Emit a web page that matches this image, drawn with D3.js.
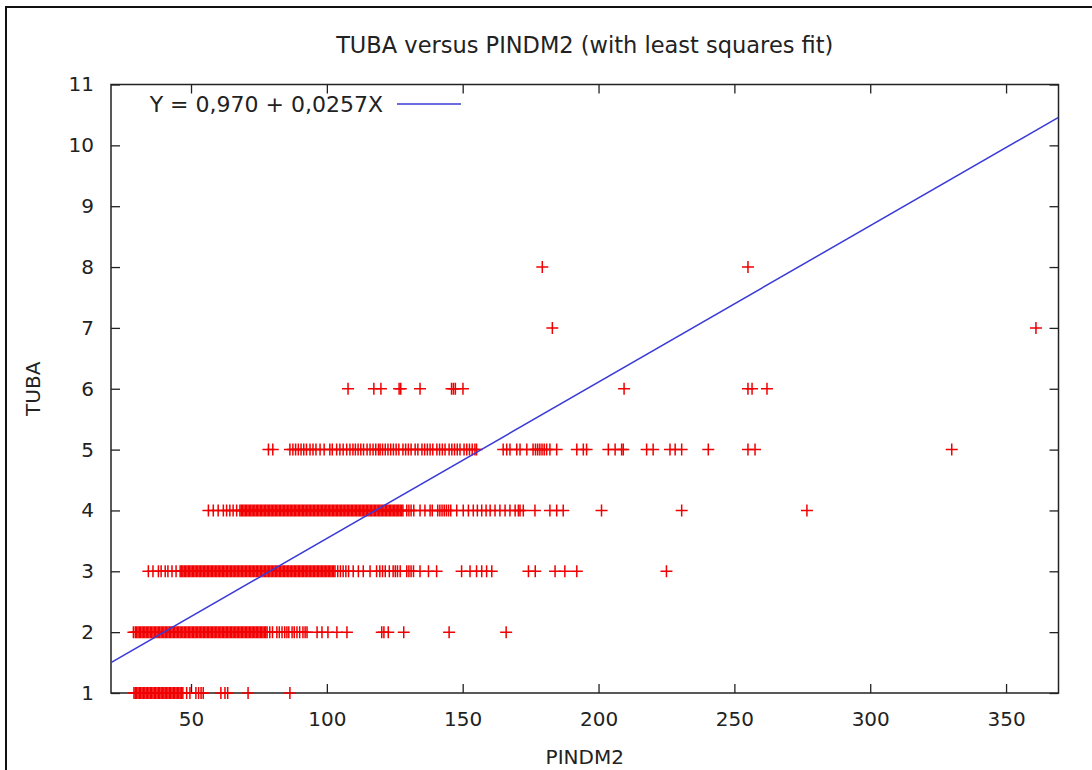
<!DOCTYPE html>
<html>
<head>
<meta charset="utf-8">
<script src="https://cdn.jsdelivr.net/npm/d3@7"></script>
<style>
  html, body { margin: 0; padding: 0; background: #fff; }
  svg { display: block; }
  text { font-family: "DejaVu Sans", Verdana, sans-serif; fill: #222; }
</style>
</head>
<body>
<svg id="chart" width="1092" height="770"></svg>
<script>
// PINDM2 observations grouped by TUBA value
const tuba1 = [29,29.5,30,30.5,31,31.5,32,32.5,33,33.5,34,34.5,35,35.5,36,36.5,37,37.5,38,38.5,39,39.5,40,40.5,41,41.5,42,42.5,43,43.5,44,44.5,45,45.5,46,46.5,47,
  48.4,49.6,51.8,52.8,53.7,54.5,61,62.5,63.5,71,86.4];
const tuba2 = [28.8,29.5,30,30.5,31,31.5,32,32.5,33,33.5,34,34.5,35,35.5,36,36.5,37,37.5,38,38.5,39,39.5,40,40.5,41,41.5,42,42.5,43,43.5,44,44.5,45,45.5,46,46.5,47,47.5,48,48.5,49,49.5,50,50.5,51,51.5,52,52.5,53,53.5,54,54.5,55,55.5,56,56.5,57,57.5,58,58.5,59,59.5,60,60.5,61,61.5,62,62.5,63,63.5,64,64.5,65,65.5,66,66.5,67,67.5,68,68.5,69,69.5,70,70.5,71,71.5,72,72.5,73,73.5,74,74.5,75,75.5,76,76.5,77,
  77.5,78,79,80,81.6,82.5,83.5,84.5,85.3,86,87.2,88,89,90,91.2,92,92.7,96.4,98.2,100.4,103.7,107.4,120.2,121,122.6,128.3,145,166];
const tuba3 = [34.3,36,38,39,40.5,41.5,43,44.5,
  46,46.5,47,47.5,48,48.5,49,49.5,50,50.5,51,51.5,52,52.5,53,53.5,54,54.5,55,55.5,56,56.5,57,57.5,58,58.5,59,59.5,60,60.5,61,61.5,62,62.5,63,63.5,64,64.5,65,65.5,66,66.5,67,67.5,68,68.5,69,69.5,70,70.5,71,71.5,72,72.5,73,73.5,74,74.5,75,75.5,76,76.5,77,77.5,78,78.5,79,79.5,80,80.5,81,81.5,82,82.5,83,83.5,84,84.5,85,85.5,86,86.5,87,87.5,88,88.5,89,89.5,90,90.5,91,91.5,92,92.5,93,93.5,94,94.5,95,95.5,96,96.5,97,97.5,98,98.5,99,99.5,100,100.5,101,101.5,102,102.5,103,
  104,105,106,107,108,109.7,111.6,113.4,115.9,118.3,119.5,120.5,121.5,123,124.4,125.2,126,127,129.4,130.2,131,131.9,134.3,137.4,140.4,
  149.6,152.7,155.1,157,158.8,160.7,174.2,176.7,184,187.6,192,225];
const tuba4 = [56.4,58.2,60,61.9,63.1,64.3,65.5,66.8,
  68,68.5,69,69.5,70,70.5,71,71.5,72,72.5,73,73.5,74,74.5,75,75.5,76,76.5,77,77.5,78,78.5,79,79.5,80,80.5,81,81.5,82,82.5,83,83.5,84,84.5,85,85.5,86,86.5,87,87.5,88,88.5,89,89.5,90,90.5,91,91.5,92,92.5,93,93.5,94,94.5,95,95.5,96,96.5,97,97.5,98,98.5,99,99.5,100,100.5,101,101.5,102,102.5,103,103.5,104,104.5,105,105.5,106,106.5,107,107.5,108,108.5,109,109.5,110,110.5,111,111.5,112,112.5,113,113.5,114,114.5,115,115.5,116,116.5,117,117.5,118,118.5,119,119.5,120,120.5,121,121.5,122,122.5,123,123.5,124,124.5,125,125.5,126,126.5,127,127.5,128,
  129.4,130.2,131,132,134.3,136.1,138,138.8,140.8,141.6,142.4,143.2,144,144.8,145.6,147.8,150.2,152.1,153.9,155.4,157,158.6,160.1,161.9,163.7,165.6,167.4,169.3,170.5,171.1,172.3,
  176.6,182.1,184.6,187,201.1,230.6,276.7];
const tuba5 = [78.5,80.1,86.4,87.5,88.5,89.5,90.5,91.5,92.5,93.8,94.9,96,97.5,99,101.1,102,103.6,104.8,106,107.3,108.5,109.6,110.5,111.5,112.5,113.5,114.8,115.9,117,118,119,119.6,
  120.5,121.5,122.5,123.5,124.5,125.5,126.5,128,129,130,131,132.5,133.5,135,136,137,138,139,140.5,141.5,142.5,143.5,145,146,147,148,149,150.5,151.5,152.5,153.5,154.5,155.1,
  164.9,166.2,167.4,169.9,171.1,173.6,175.9,176.8,177.6,178.4,179.2,180,180.9,182.1,184.6,192,194.4,195.6,203.6,206.1,208.5,209.1,217.7,220.1,226.3,228.2,230.6,240.4,255,257.6,330];
const tuba6 = [107.8,117.3,119.9,126.6,127.2,134.3,145.9,146.6,147.3,150.1,209.4,255,256.5,262];
const tuba7 = [183,361];
const tuba8 = [179.3,255];

const tubaGroups = [
  { tuba: 1, pindm2: tuba1 }, { tuba: 2, pindm2: tuba2 }, { tuba: 3, pindm2: tuba3 },
  { tuba: 4, pindm2: tuba4 }, { tuba: 5, pindm2: tuba5 }, { tuba: 6, pindm2: tuba6 },
  { tuba: 7, pindm2: tuba7 }, { tuba: 8, pindm2: tuba8 }
];

// least squares fit  Y = a + bX
const fitIntercept = 0.970;
const fitSlope = 0.0257;

const xTicks = [50, 100, 150, 200, 250, 300, 350];
const yTicks = [1, 2, 3, 4, 5, 6, 7, 8, 9, 10, 11];
const xDomain = [20.55, 369.3];
const yDomain = [1, 11];

const titleText = "TUBA versus PINDM2 (with least squares fit)";
const xLabel = "PINDM2";
const yLabel = "TUBA";
const fitLabel = "Y = 0,970 + 0,0257X";

const svg = d3.select("#chart");
const plot = { left: 111, right: 1058.5, top: 84.5, bottom: 693 };

const x = d3.scaleLinear().domain(xDomain).range([plot.left, plot.right]);
const y = d3.scaleLinear().domain(yDomain).range([plot.bottom, plot.top]);

// outer frame (top and left edges)
svg.append("path")
  .attr("d", "M6,770 L6,7 L1092,7")
  .attr("fill", "none").attr("stroke", "#111").attr("stroke-width", 2);

svg.append("text")
  .attr("x", (plot.left + plot.right) / 2).attr("y", 53)
  .attr("text-anchor", "middle").style("font-size", "22.5px")
  .text(titleText);

// axes with inward ticks, mirrored on top and right
const tickLen = 9;
const axisStyle = g => {
  g.select(".domain").remove();
  g.selectAll(".tick line").attr("stroke", "#222").attr("stroke-width", 1.3);
  g.selectAll(".tick text").style("font-size", "20px").attr("fill", "#222")
    .style("font-family", "'DejaVu Sans', Verdana, sans-serif");
};

svg.append("g").attr("transform", `translate(0,${plot.bottom})`)
  .call(d3.axisBottom(x).tickValues(xTicks).tickSize(-tickLen).tickPadding(19))
  .call(axisStyle);
svg.append("g").attr("transform", `translate(0,${plot.top})`)
  .call(d3.axisTop(x).tickValues(xTicks).tickSize(-tickLen).tickFormat(""))
  .call(axisStyle);
svg.append("g").attr("transform", `translate(${plot.left},0)`)
  .call(d3.axisLeft(y).tickValues(yTicks).tickSize(-tickLen).tickPadding(17))
  .call(axisStyle);
svg.append("g").attr("transform", `translate(${plot.right},0)`)
  .call(d3.axisRight(y).tickValues(yTicks).tickSize(-tickLen).tickFormat(""))
  .call(axisStyle);

svg.append("rect")
  .attr("x", plot.left).attr("y", plot.top)
  .attr("width", plot.right - plot.left).attr("height", plot.bottom - plot.top)
  .attr("fill", "none").attr("stroke", "#222").attr("stroke-width", 1.5);

svg.append("text")
  .attr("x", (plot.left + plot.right) / 2).attr("y", 764)
  .attr("text-anchor", "middle").style("font-size", "20px")
  .text(xLabel);
svg.append("text")
  .attr("transform", `translate(40,${(plot.top + plot.bottom) / 2}) rotate(-90)`)
  .attr("text-anchor", "middle").style("font-size", "20px")
  .text(yLabel);

// scatter of '+' markers
const pts = tubaGroups.flatMap(g => g.pindm2.map(v => ({ x: v, y: g.tuba })));
const arm = 6;
svg.append("g")
  .selectAll("path")
  .data(pts)
  .join("path")
  .attr("d", d => {
    const cx = x(d.x), cy = y(d.y);
    return `M${cx - arm},${cy}H${cx + arm}M${cx},${cy - arm}V${cy + arm}`;
  })
  .attr("stroke", "#f00000").attr("stroke-width", 1.5).attr("fill", "none");

// fitted line
svg.append("defs").append("clipPath").attr("id", "plotClip")
  .append("rect").attr("x", plot.left).attr("y", plot.top)
  .attr("width", plot.right - plot.left).attr("height", plot.bottom - plot.top);

const fitLine = d3.line().x(d => x(d)).y(d => y(fitIntercept + fitSlope * d));
svg.append("path")
  .datum(xDomain)
  .attr("clip-path", "url(#plotClip)")
  .attr("d", fitLine)
  .attr("fill", "none").attr("stroke", "#3a3ad8").attr("stroke-width", 1.5);

// key
const keyY = 104;
svg.append("text")
  .attr("x", 383).attr("y", keyY).attr("dy", "0.36em")
  .attr("text-anchor", "end").style("font-size", "22px")
  .text(fitLabel);
svg.append("line")
  .attr("x1", 397).attr("x2", 461).attr("y1", keyY).attr("y2", keyY)
  .attr("stroke", "#3a3ad8").attr("stroke-width", 1.5);
</script>
</body>
</html>
